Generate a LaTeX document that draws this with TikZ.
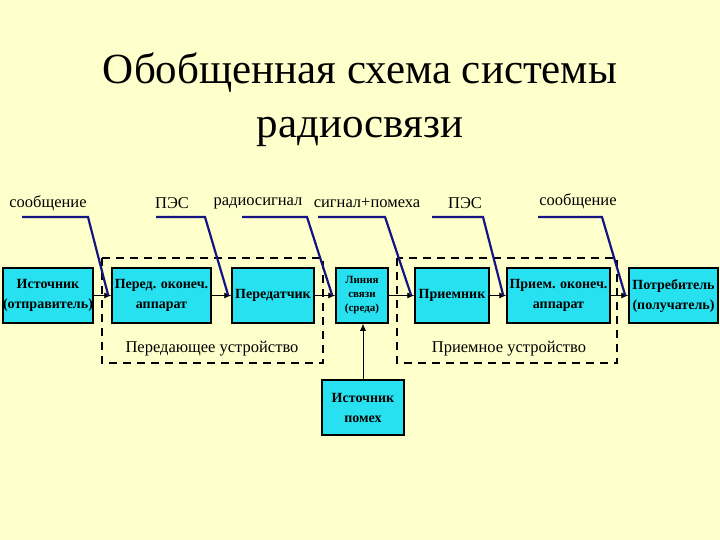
\documentclass[tikz,border=0pt]{standalone}
\usepackage{fontspec}
\setmainfont{Liberation Serif}
\usetikzlibrary{arrows.meta}
\definecolor{bg}{RGB}{255,255,204}
\definecolor{boxc}{RGB}{40,225,240}
\definecolor{call}{RGB}{20,20,130}
\begin{document}
\begin{tikzpicture}[x=1pt,y=-1pt,
 blk/.style={draw,line width=1.5pt,fill=boxc,inner sep=0pt,align=center,font=\bfseries\fontsize{14}{20}\selectfont},
 lbl/.style={font=\fontsize{16.5}{18}\selectfont,inner sep=0pt},
 arr/.style={-{Latex[length=7pt,width=6pt]},line width=0.8pt},
 cl/.style={draw=call,line width=2.2pt},
 dsh/.style={draw,dash pattern=on 8pt off 6pt,line width=1.5pt}]
\fill[bg] (0,0) rectangle (720,540);
\useasboundingbox (0,0) rectangle (720,540);
\node[font=\fontsize{43}{54}\selectfont,align=center] (title) at (360,100) {Обобщенная схема системы\\радиосвязи};
\draw[dsh] (102,258) rectangle (323,363);
\draw[dsh] (397,258) rectangle (617,363);
\node[lbl] (tl) at (212,349) {Передающее устройство};
\node[lbl] (rl) at (509,349) {Приемное устройство};
\node[blk,minimum width=90,minimum height=55] (s) at (48,295.5) {Источник\\(отправитель)};
\node[blk,minimum width=99,minimum height=55] (pe) at (161.5,295.5) {Перед. оконеч.\\аппарат};
\node[blk,minimum width=82,minimum height=55] (tx) at (273,295.5) {Передатчик};
\node[blk,minimum width=52,minimum height=55,font=\bfseries\fontsize{11}{14}\selectfont] (ln) at (362,295.5) {Линия\\связи\\(среда)};
\node[blk,minimum width=74,minimum height=55] (rx) at (452,295.5) {Приемник};
\node[blk,minimum width=103,minimum height=55] (pr) at (558.5,295.5) {Прием. оконеч.\\аппарат};
\node[blk,minimum width=89,minimum height=55] (c) at (673.5,295.5) {Потребитель\\(получатель)};
\node[blk,minimum width=82,minimum height=55] (n) at (363,407.5) {Источник\\помех};
\draw[arr] (s) -- (pe);
\draw[arr] (pe) -- (tx);
\draw[arr] (tx) -- (ln);
\draw[arr] (ln) -- (rx);
\draw[arr] (rx) -- (pr);
\draw[arr] (pr) -- (c);
\draw[arr] (n) -- (n.north |- ln.south);
\node[lbl] (l1) at (48,203) {сообщение};
\node[lbl] (l2) at (172,203) {ПЭС};
\node[lbl] (l3) at (258,203) {радиосигнал};
\node[lbl] (l4) at (367,203) {сигнал+помеха};
\node[lbl] (l5) at (465,203) {ПЭС};
\node[lbl] (l6) at (578,201) {сообщение};
\draw[cl] (22,217) -- (88,217) -- ([xshift=-3pt]pe.west);
\draw[cl] (156,217) -- (205,217) -- ([xshift=-3pt]tx.west);
\draw[cl] (242,217) -- (307,217) -- ([xshift=-3pt]ln.west);
\draw[cl] (318,217) -- (385,217) -- ([xshift=-3pt]rx.west);
\draw[cl] (432,217) -- (483,217) -- ([xshift=-3pt]pr.west);
\draw[cl] (538,217) -- (602,217) -- ([xshift=-3pt]c.west);
\end{tikzpicture}
\end{document}
